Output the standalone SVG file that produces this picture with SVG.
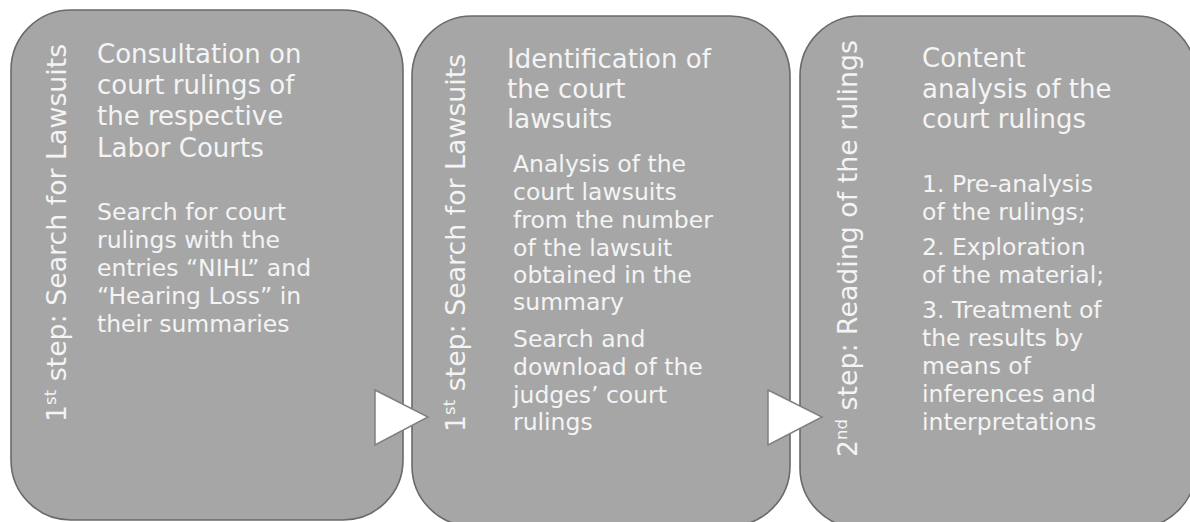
<svg xmlns="http://www.w3.org/2000/svg" width="1190" height="522" viewBox="0 0 1190 522">
<style>
.box{fill:#a6a6a6;stroke:#6a6a6a;stroke-width:1.6}
.arrow{fill:#ffffff;stroke:#808080;stroke-width:1.5}
text{font-family:"DejaVu Sans","Liberation Sans",sans-serif;fill:#f4f4f4}
.t{font-size:26px}
.b{font-size:23.5px}
.v{font-size:26.8px}
</style>
<rect width="1190" height="522" fill="#ffffff"/>
<g id="node1">
<rect class="box" x="11" y="10" width="392" height="510" rx="60" ry="60"/>
<text class="v" transform="translate(66,422) rotate(-90)">1<tspan font-size="16.5" dy="-10">st</tspan><tspan dy="10"> step: Search for Lawsuits</tspan></text>
<text class="t" x="97" y="63">Consultation on</text>
<text class="t" x="97" y="94">court rulings of</text>
<text class="t" x="97" y="125">the respective</text>
<text class="t" x="97" y="157">Labor Courts</text>
<text class="b" x="97" y="220">Search for court</text>
<text class="b" x="97" y="248">rulings with the</text>
<text class="b" x="97" y="276">entries “NIHL” and</text>
<text class="b" x="97" y="304">“Hearing Loss” in</text>
<text class="b" x="97" y="332">their summaries</text>
</g>
<g id="node2">
<rect class="box" x="412" y="16" width="378" height="510" rx="60" ry="60"/>
<text class="v" transform="translate(465,432) rotate(-90)">1<tspan font-size="16.5" dy="-10">st</tspan><tspan dy="10"> step: Search for Lawsuits</tspan></text>
<text class="t" x="507" y="68">Identification of</text>
<text class="t" x="507" y="98">the court</text>
<text class="t" x="507" y="128">lawsuits</text>
<text class="b" x="513" y="172">Analysis of the</text>
<text class="b" x="513" y="200">court lawsuits</text>
<text class="b" x="513" y="228">from the number</text>
<text class="b" x="513" y="256">of the lawsuit</text>
<text class="b" x="513" y="283">obtained in the</text>
<text class="b" x="513" y="310">summary</text>
<text class="b" x="513" y="347">Search and</text>
<text class="b" x="513" y="375">download of the</text>
<text class="b" x="513" y="403">judges’ court</text>
<text class="b" x="513" y="430">rulings</text>
</g>
<g id="node3">
<rect class="box" x="800" y="16" width="396" height="512" rx="60" ry="60"/>
<text class="v" transform="translate(857,457) rotate(-90)">2<tspan font-size="16.5" dy="-10">nd</tspan><tspan dy="10"> step: Reading of the rulings</tspan></text>
<text class="t" x="922" y="67">Content</text>
<text class="t" x="922" y="98">analysis of the</text>
<text class="t" x="922" y="128">court rulings</text>
<text class="b" x="922" y="192">1. Pre-analysis</text>
<text class="b" x="922" y="220">of the rulings;</text>
<text class="b" x="922" y="255">2. Exploration</text>
<text class="b" x="922" y="283">of the material;</text>
<text class="b" x="922" y="318">3. Treatment of</text>
<text class="b" x="922" y="346">the results by</text>
<text class="b" x="922" y="374">means of</text>
<text class="b" x="922" y="402">inferences and</text>
<text class="b" x="922" y="430">interpretations</text>
</g>
<g id="connectors">
<polygon class="arrow" points="375,390 428,417 375,445"/>
<polygon class="arrow" points="768,390 822,417 768,445"/>
</g>
</svg>
